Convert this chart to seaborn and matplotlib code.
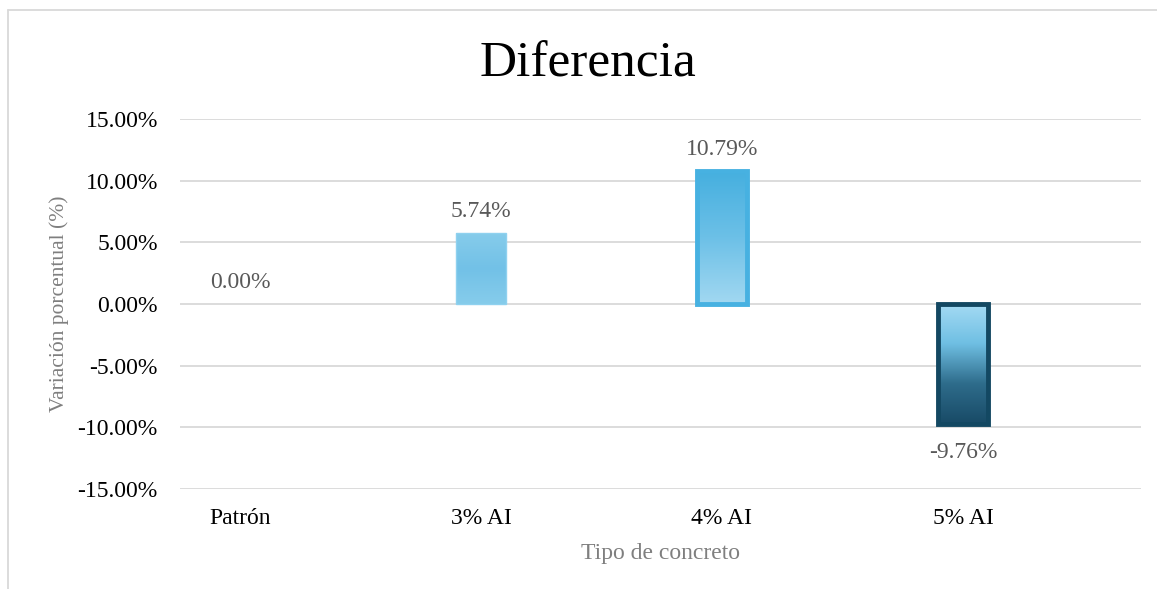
import numpy as np
import pandas as pd
import matplotlib
matplotlib.use("Agg")
import matplotlib.pyplot as plt
from matplotlib.colors import LinearSegmentedColormap
from matplotlib.lines import Line2D
import seaborn as sns

# Data
categorias = ["Patrón", "3% AI", "4% AI", "5% AI"]
variacion = [0.00, 5.74, 10.79, -9.76]
ticks_y = [-15, -10, -5, 0, 5, 10, 15]

# Gradient fills (top -> bottom) and edge colors per bar
gradientes = [
    ["#85CBEA", "#85CBEA"],
    ["#86CCEB", "#72C1E7", "#86CCEB"],
    ["#45AFDF", "#6CC0E7", "#A2D8F1"],
    ["#A5DBF4", "#6FBFE3", "#2E6C8B", "#184A66"],
]
bordes = ["#8FD1EF", "#8FD1EF", "#47B1E1", "#134862"]
grosor_borde = [1.0, 1.0, 3.5, 3.5]

sns.set_theme(style="white")
plt.rcParams["font.family"] = ["Liberation Serif", "DejaVu Serif"]

df = pd.DataFrame({"Tipo de concreto": categorias, "Variación": variacion})

fig = plt.figure(figsize=(11.57, 5.89), dpi=100)
ax = fig.add_axes([0.1556, 0.1698, 0.9862 - 0.1556, 0.798 - 0.1698])

sns.barplot(data=df, x="Tipo de concreto", y="Variación", width=0.207,
            color="#85CBEA", ax=ax, zorder=3)

ax.set_ylim(-15, 15)
ax.set_xlim(-0.249, 3.739)
ax.set_yticks(ticks_y)
ax.set_yticklabels([f"{t:.2f}%" for t in ticks_y], fontsize=17, color="black")
ax.tick_params(axis="x", labelsize=17, colors="black", length=0, pad=14)
ax.tick_params(axis="y", length=0, pad=16)
ax.yaxis.grid(True, color="#D9D9D9", linewidth=1.3, zorder=0)
ax.xaxis.grid(False)
for s in ax.spines.values():
    s.set_visible(False)

ax.set_xlabel("Tipo de concreto", fontsize=17, color="#7F7F7F", labelpad=10)
ax.set_ylabel("Variación porcentual (%)", fontsize=15.5, color="#7F7F7F", labelpad=6)

# Gradient fill for each bar, clipped to its rectangle
for patch, cols, ec, lw in zip(ax.patches, gradientes, bordes, grosor_borde):
    x0, y0 = patch.get_x(), patch.get_y()
    w, h = patch.get_width(), patch.get_height()
    patch.set_facecolor("none")
    patch.set_edgecolor(ec)
    patch.set_linewidth(lw)
    if h == 0:
        patch.set_edgecolor("none")
        continue
    cmap = LinearSegmentedColormap.from_list("g", cols)
    grad = np.linspace(0, 1, 256).reshape(-1, 1)
    ylo, yhi = min(y0, y0 + h), max(y0, y0 + h)
    im = ax.imshow(grad, cmap=cmap, aspect="auto", origin="upper",
                   extent=[x0, x0 + w, ylo, yhi], zorder=2.5,
                   interpolation="bilinear")
    im.set_clip_path(patch)
    patch.set_zorder(3)

ax.set_xlim(-0.249, 3.739)
ax.set_ylim(-15, 15)

# Value labels: positive/zero above the bar, negative below it
etiq_pos = [f"{v:.2f}%" if v >= 0 else "" for v in variacion]
etiq_neg = [f"{v:.2f}%" if v < 0 else "" for v in variacion]
ax.bar_label(ax.containers[0], labels=etiq_pos, padding=8,
             fontsize=17, color="#595959")
ax.bar_label(ax.containers[0], labels=etiq_neg, padding=13,
             fontsize=17, color="#595959")

fig.suptitle("Diferencia", fontsize=37, color="black", x=0.508, y=0.93)

# Chart frame lines
fig.add_artist(Line2D([8 / 1157, 8 / 1157], [0, 1 - 10 / 589],
                      transform=fig.transFigure, color="#D9D9D9", linewidth=1.3))
fig.add_artist(Line2D([8 / 1157, 1], [1 - 10 / 589, 1 - 10 / 589],
                      transform=fig.transFigure, color="#D9D9D9", linewidth=1.3))

fig.savefig("out.png", dpi=100, facecolor="white")
